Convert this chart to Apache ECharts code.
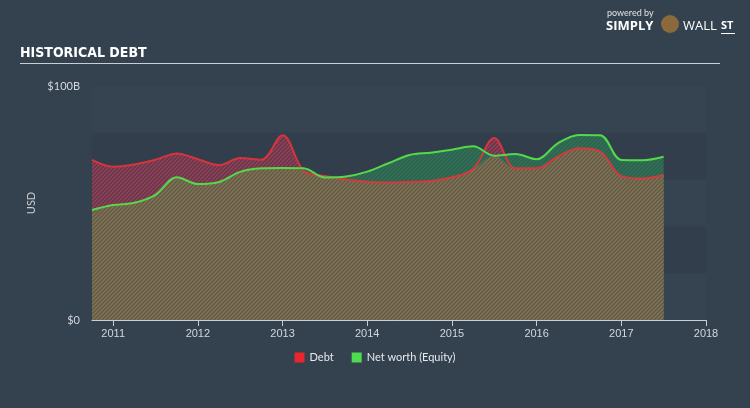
<!DOCTYPE html>
<html><head><meta charset="utf-8">
<script src="https://cdn.jsdelivr.net/npm/echarts@6/dist/echarts.min.js"></script>
<style>html,body{margin:0;padding:0;background:#34414f;}#c{width:750px;height:408px;}</style>
</head><body><div id="c"></div>
<script>
// ---- data ----
const quarters = [2010.75,2011.0,2011.25,2011.5,2011.75,2012.0,2012.25,2012.5,2012.75,2013.0,2013.25,2013.5,2013.75,2014.0,2014.25,2014.5,2014.75,2015.0,2015.25,2015.5,2015.75,2016.0,2016.25,2016.5,2016.75,2017.0,2017.25,2017.5];
const debt =   [68.4,65.5,66.5,68.5,71.2,68.7,66.2,69.2,68.5,79.0,63.8,61.5,60.0,59.1,58.8,59.0,59.4,61.0,64.5,77.8,64.8,64.8,69.8,73.4,72.0,61.5,60.5,62.0];
const equity = [47.0,49.1,50.1,53.5,61.0,58.1,59.0,63.3,64.8,65.0,64.8,60.9,61.3,63.4,67.0,70.5,71.5,72.8,74.2,70.2,70.9,68.7,75.5,79.1,79.0,68.4,68.3,69.8];
const yearTicks = [2011,2012,2013,2014,2015,2016,2017,2018];
const yLabels = {0:'$0',100:'$100B'};

function hatch(bg, fg){
  const s=4, c=document.createElement('canvas'); c.width=c.height=s;
  const g=c.getContext('2d'); g.fillStyle=bg; g.fillRect(0,0,s,s);
  g.strokeStyle=fg; g.lineWidth=1.2; g.beginPath();
  g.moveTo(-1,s+1); g.lineTo(s+1,-1);
  g.moveTo(-1,1); g.lineTo(1,-1);
  g.moveTo(s-1,s+1); g.lineTo(s+1,s-1);
  g.stroke(); return c;
}
const redPat = {image: hatch('#6e3349','#8e4a5e'), repeat:'repeat'};
const greenPat = {image: hatch('#2c6450','#357258'), repeat:'repeat'};
const olivePat = {image: hatch('#655b47','#857859'), repeat:'repeat'};

const pair = arr => quarters.map((q,i)=>[q,arr[i]]);
const lower = debt.map((d,i)=>Math.min(d,equity[i]));
const SM = 0.35;

const chart = echarts.init(document.getElementById('c'), null, {renderer:'canvas'});
chart.setOption({
  backgroundColor:'#34414f',
  animation:false,
  textStyle:{fontFamily:'Lato, "Open Sans", sans-serif'},
  graphic:[
    {type:'text', left:20, top:46, style:{text:'HISTORICAL DEBT', fill:'#ffffff', font:'bold 14px "Liberation Sans Narrow", "DejaVu Sans Condensed", sans-serif'}},
    {type:'rect', shape:{x:20,y:63,width:700,height:1}, style:{fill:'#c9ced4'}},
    {type:'text', left:607, top:9, style:{text:'powered by', fill:'#dfe3e8', font:'9px Lato, sans-serif'}},
    {type:'text', left:606, top:20, style:{text:'SIMPLY', fill:'#ffffff', font:'bold 13px "Open Sans", sans-serif'}},
    {type:'circle', shape:{cx:670,cy:24,r:9}, style:{fill:'#8a6a3c'}},
    {type:'text', left:683, top:20, style:{text:'WALL', fill:'#ffffff', font:'13px "Open Sans", sans-serif'}},
    {type:'text', left:721, top:20, style:{text:'ST', fill:'#ffffff', font:'bold 11px "Open Sans", sans-serif'}},
    {type:'rect', shape:{x:721,y:33,width:14,height:1}, style:{fill:'#ffffff'}}
  ],
  legend:{
    bottom:40, left:'center', itemWidth:10, itemHeight:10, itemGap:18, icon:'rect',
    textStyle:{color:'#e6e9ed', fontSize:11, fontFamily:'Lato, sans-serif'},
    data:[{name:'Debt', itemStyle:{color:'#e8262e'}},{name:'Net worth (Equity)', itemStyle:{color:'#4fdb4f'}}]
  },
  grid:{left:92, right:44, top:86, bottom:88},
  xAxis:{
    type:'value', min:2010.75, max:2018,
    axisLine:{lineStyle:{color:'#c9ced4', width:1}},
    axisTick:{show:true, customValues:yearTicks, length:6, lineStyle:{color:'#c9ced4'}},
    axisLabel:{customValues:yearTicks, color:'#d3d7dc', fontSize:11, margin:8, formatter:v=>String(Math.round(v)), fontFamily:'"Liberation Sans Narrow", sans-serif'},
    splitLine:{show:false}
  },
  yAxis:{
    type:'value', min:0, max:100, interval:20,
    name:'USD', nameLocation:'middle', nameGap:48, nameTextStyle:{color:'#c9ced4', fontSize:11},
    axisLine:{show:false}, axisTick:{show:false},
    axisLabel:{color:'#d3d7dc', fontSize:11, margin:12, formatter:v=>yLabels[v]||''},
    splitLine:{show:false},
    splitArea:{show:true, areaStyle:{color:['rgba(255,255,255,0.012)','rgba(0,0,0,0.035)']}}
  },
  series:[
    {name:'Debt', type:'line', data:pair(debt), smooth:SM, symbol:'none', lineStyle:{width:0}, areaStyle:{color:redPat, opacity:1}, z:2, silent:true},
    {name:'Net worth (Equity)', type:'line', data:pair(equity), smooth:SM, symbol:'none', lineStyle:{width:0}, areaStyle:{color:greenPat, opacity:1}, z:3, silent:true},
    {name:'lower', type:'line', data:pair(lower), smooth:SM, symbol:'none', lineStyle:{width:0}, areaStyle:{color:olivePat, opacity:1}, z:4, silent:true},
    {name:'Debt', type:'line', data:pair(debt), smooth:SM, symbol:'none', lineStyle:{width:2, color:'#e3343a', opacity:0.9}, itemStyle:{color:'#e8262e'}, z:5},
    {name:'Net worth (Equity)', type:'line', data:pair(equity), smooth:SM, symbol:'none', lineStyle:{width:2, color:'#55d94a'}, itemStyle:{color:'#4fdb4f'}, z:6}
  ]
});
</script></body></html>
